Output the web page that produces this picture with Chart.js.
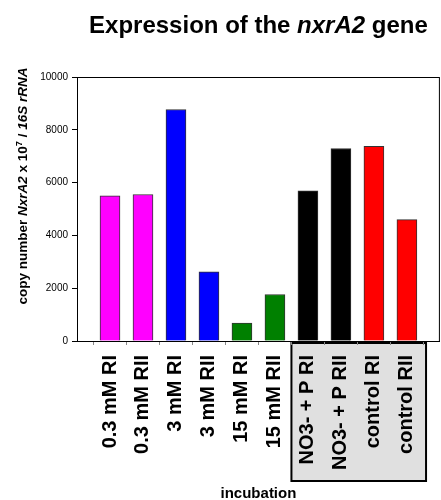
<!DOCTYPE html>
<html lang="en">
<head>
  <meta charset="UTF-8" />
  <title>Expression of the nxrA2 gene</title>
  <script src="https://cdn.jsdelivr.net/npm/chart.js"></script>
  <style>
    body { margin: 0; background: white; }
    #wrap { width: 441px; height: 500px; }
  </style>
</head>
<body>
  <div id="wrap"><canvas id="chart" width="441" height="500"></canvas></div>

  <script>
    const categories = ["0.3 mM RI", "0.3 mM RII", "3 mM RI", "3 mM RII", "15 mM RI",
                        "15 mM RII", "NO3- + P RI", "NO3- + P RII", "control RI", "control RII"];
    const copyNumbers = [5500, 5550, 8770, 2620, 680, 1760, 5690, 7290, 7370, 4600];
    const barColors = ["#ff00ff", "#ff00ff", "#0000ff", "#0000ff", "#008000",
                       "#008000", "#000000", "#000000", "#ff0000", "#ff0000"];
    const yTicks = [0, 2000, 4000, 6000, 8000, 10000];

    const FONT = "'Liberation Sans', Arial, sans-serif";

    // draw a run of text pieces with differing styles
    function drawRuns(ctx, runs, size) {
      let w = 0;
      runs.forEach(r => {
        ctx.font = `${r.italic ? "italic " : ""}bold ${r.sup ? size * 0.7 : size}px ${FONT}`;
        r.w = ctx.measureText(r.t).width;
        w += r.w;
      });
      let x = -w / 2;
      runs.forEach(r => {
        ctx.font = `${r.italic ? "italic " : ""}bold ${r.sup ? size * 0.7 : size}px ${FONT}`;
        ctx.fillText(r.t, x, r.sup ? -size * 0.4 : 0);
        x += r.w;
      });
    }

    const decorations = {
      id: "decorations",
      beforeDraw(chart) {
        // shaded box behind the last four labels
        const ctx = chart.ctx, xs = chart.scales.x, area = chart.chartArea;
        const l = xs.getPixelForValue(6.5), r = xs.getPixelForValue(10.58);
        ctx.save();
        ctx.fillStyle = "#e0e0e0";
        ctx.strokeStyle = "#000";
        ctx.lineWidth = 2;
        ctx.fillRect(l, area.bottom + 2, r - l, 138);
        ctx.strokeRect(l, area.bottom + 2, r - l, 138);
        ctx.restore();
      },
      afterDraw(chart) {
        const ctx = chart.ctx, area = chart.chartArea;
        ctx.save();
        ctx.strokeStyle = "#000";
        ctx.lineWidth = 1;
        ctx.strokeRect(area.left + 0.5, area.top + 0.5, area.right - area.left - 1, area.bottom - area.top);
        ctx.fillStyle = "#000";
        ctx.textBaseline = "alphabetic";

        // title
        ctx.save();
        ctx.translate((area.left + area.right) / 2, 33);
        drawRuns(ctx, [{ t: "Expression of the " }, { t: "nxrA2", italic: true }, { t: " gene" }], 24);
        ctx.restore();

        // y axis title
        ctx.save();
        ctx.translate(27, (area.top + area.bottom) / 2 - 23);
        ctx.rotate(-Math.PI / 2);
        drawRuns(ctx, [{ t: "copy number " }, { t: "NxrA2", italic: true }, { t: " x 10" },
                       { t: "7", sup: true }, { t: " / " }, { t: "16S rRNA", italic: true }], 13.5);
        ctx.restore();

        // x axis title
        ctx.save();
        ctx.translate((area.left + area.right) / 2, 498);
        drawRuns(ctx, [{ t: "incubation" }], 15);
        ctx.restore();
        ctx.restore();
      }
    };

    new Chart(document.getElementById("chart"), {
      type: "bar",
      data: {
        datasets: [{
          data: copyNumbers.map((v, i) => ({ x: i + 1, y: v })),
          backgroundColor: barColors,
          borderColor: "#333",
          borderWidth: 1,
          barThickness: 20
        }]
      },
      options: {
        responsive: false,
        animation: false,
        layout: { padding: { top: 77, right: 1, left: 0, bottom: 0 } },
        plugins: { legend: { display: false }, tooltip: { enabled: false } },
        scales: {
          x: {
            type: "linear",
            min: 0,
            max: 11,
            offset: false,
            afterBuildTicks: s => { s.ticks = categories.map((c, i) => ({ value: i + 1 })); },
            afterFit: s => { s.height = 159; },
            grid: { drawOnChartArea: false, drawTicks: true, tickLength: 4, color: "#888" },
            border: { display: true, color: "#000", width: 1 },
            ticks: {
              autoSkip: false,
              minRotation: 90,
              maxRotation: 90,
              padding: 10,
              color: "#000",
              font: { family: FONT, size: 20, weight: "bold" },
              callback: v => categories[v - 1]
            }
          },
          y: {
            min: 0,
            max: 10000,
            afterBuildTicks: s => { s.ticks = yTicks.map(v => ({ value: v })); },
            afterFit: s => { s.width = 77; },
            grid: { drawOnChartArea: false, drawTicks: true, tickLength: 5, color: "#000" },
            border: { display: true, color: "#000", width: 1 },
            ticks: {
              padding: 4,
              color: "#000",
              font: { family: FONT, size: 10 },
              callback: v => String(v)
            }
          }
        }
      },
      plugins: [decorations]
    });
  </script>
</body>
</html>
